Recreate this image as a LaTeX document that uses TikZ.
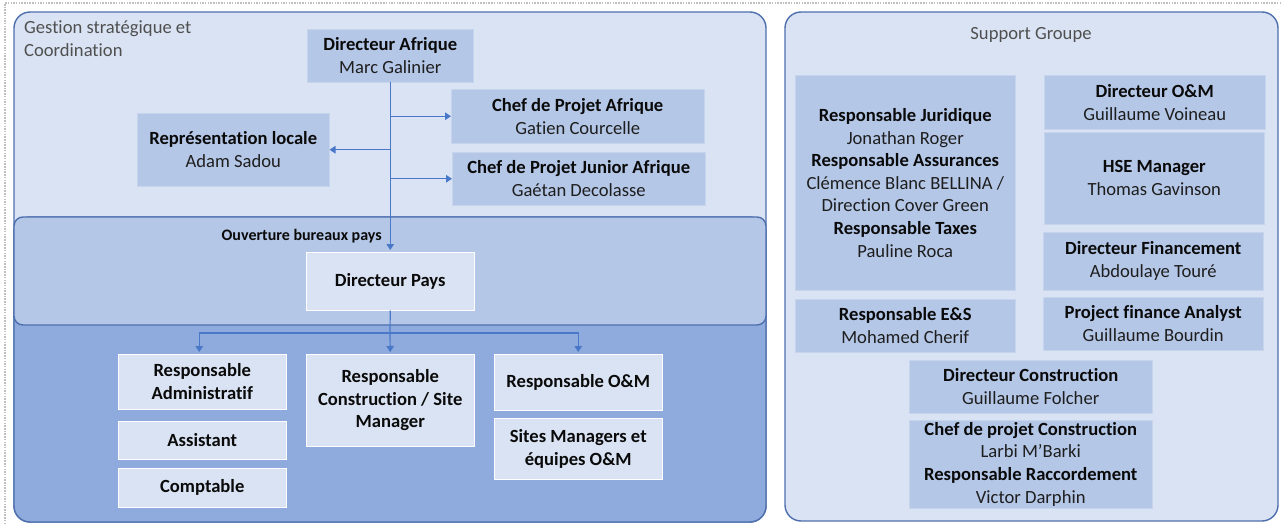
\documentclass[tikz,border=0pt]{standalone}
\usepackage{fontspec}
\setmainfont{Carlito}[Ligatures=NoCommon]
\usetikzlibrary{arrows.meta}

\definecolor{panelfill}{HTML}{DAE3F3}
\definecolor{bandmid}{HTML}{B4C7E7}
\definecolor{banddark}{HTML}{8FAADC}
\definecolor{panelline}{HTML}{4E6FAD}
\definecolor{linkblue}{HTML}{4A78C8}
\definecolor{ink}{HTML}{0A0A0A}
\definecolor{nameink}{HTML}{1E1E1E}
\definecolor{softink}{HTML}{505050}
\definecolor{framegray}{HTML}{BFBFBF}
\definecolor{boxedge}{HTML}{C6D4EC}

\tikzset{
  panel/.style={draw=panelline, line width=1.4pt, rounded corners=16pt},
  band/.style={draw=panelline, line width=1.4pt, rounded corners=9pt},
  orgbox/.style={inner sep=0pt, align=center, anchor=north west, text=ink,
    font=\fontsize{18.6}{22.6}\selectfont},
  boxmid/.style={orgbox, fill=bandmid, draw=boxedge, line width=0.5pt},
  boxlight/.style={orgbox, fill=panelfill, draw=white, line width=0.5pt},
  link/.style={draw=linkblue, line width=1.2pt},
  arr/.style={link, -{Triangle[length=6pt,width=7.5pt]}},
}
\newcommand\pname[1]{\textcolor{nameink}{#1}}

\begin{document}
\begin{tikzpicture}[x=1pt,y=-1pt]
\useasboundingbox (0,0) rectangle (1282,524);

% dotted page frame
\draw[framegray, line width=1.2pt, dash pattern=on 1.5pt off 1.2pt]
  (5,524) -- (5,3) -- (1282,3);

% left panel with its two bands
\draw[panel, fill=panelfill] (14,12) rectangle (766,522);
\draw[panel, fill=banddark] (14,217) rectangle (766,522);
\draw[band, fill=bandmid] (14,217) rectangle (766,325);

% right panel
\draw[panel, fill=panelfill] (785,12) rectangle (1278,521);

% panel titles
\node[anchor=north west, inner sep=0pt, align=left, text=softink,
  font=\fontsize{18.6}{23}\selectfont] (gsc) at (24,20.5)
  {Gestion stratégique et\\Coordination};
\node[anchor=base, inner sep=0pt, text=softink,
  font=\fontsize{18.6}{22.6}\selectfont] (sg) at (1031,39.5) {Support Groupe};

% strategic management
\node[boxmid, minimum width=166pt, minimum height=53pt] (da) at (307,29)
  {\textbf{Directeur Afrique}\\\pname{Marc Galinier}};
\node[boxmid, minimum width=253pt, minimum height=54pt] (cpa) at (451,89)
  {\textbf{Chef de Projet Afrique}\\\pname{Gatien Courcelle}};
\node[boxmid, minimum width=253pt, minimum height=53pt] (cpja) at (452,152)
  {\textbf{Chef de Projet Junior Afrique}\\\pname{Gaétan Decolasse}};
\node[boxmid, minimum width=192pt, minimum height=73pt] (rl) at (137,113)
  {\textbf{Représentation locale}\\\pname{Adam Sadou}};

% country office
\node[anchor=east, inner sep=0pt, text=ink,
  font=\fontsize{16}{19}\selectfont\bfseries] (obp) at (382,236.5)
  {Ouverture bureaux pays};
\node[boxlight, minimum width=168pt, minimum height=58pt] (dp) at (306,252)
  {\textbf{Directeur Pays}};

% country teams
\node[boxlight, minimum width=168pt, minimum height=55pt] (radm) at (118,354)
  {\textbf{Responsable}\\\textbf{Administratif}};
\node[boxlight, minimum width=168pt, minimum height=38pt] (asst) at (118,421)
  {\textbf{Assistant}};
\node[boxlight, minimum width=168pt, minimum height=39pt] (compt) at (118,468)
  {\textbf{Comptable}};
\node[boxlight, minimum width=168pt, minimum height=92pt] (rcs) at (306,354)
  {\textbf{Responsable}\\\textbf{Construction / Site}\\\textbf{Manager}};
\node[boxlight, minimum width=168pt, minimum height=56pt] (rom) at (494,354)
  {\textbf{Responsable O\&M}};
\node[boxlight, minimum width=168pt, minimum height=61pt] (smo) at (494,418)
  {\textbf{Sites Managers et}\\\textbf{équipes O\&M}};

% group support
\node[boxmid, minimum width=220pt, minimum height=215pt] (jur) at (795,75)
  {\textbf{Responsable Juridique}\\\pname{Jonathan Roger}\\
   \textbf{Responsable Assurances}\\\pname{Clémence Blanc BELLINA /}\\
   \pname{Direction Cover Green}\\\textbf{Responsable Taxes}\\\pname{Pauline Roca}};
\node[boxmid, minimum width=221pt, minimum height=54pt] (dom) at (1044,75)
  {\textbf{Directeur O\&M}\\\pname{Guillaume Voineau}};
\node[boxmid, minimum width=220pt, minimum height=92pt] (hse) at (1044,132)
  {\textbf{HSE Manager}\\\pname{Thomas Gavinson}};
\node[boxmid, minimum width=220pt, minimum height=58pt] (dfin) at (1043,232)
  {\textbf{Directeur Financement}\\\pname{Abdoulaye Touré}};
\node[boxmid, minimum width=220pt, minimum height=53pt] (res) at (795,299)
  {\textbf{Responsable E\&S}\\\pname{Mohamed Cherif}};
\node[boxmid, minimum width=220pt, minimum height=53pt] (pfa) at (1043,297)
  {\textbf{Project finance Analyst}\\\pname{Guillaume Bourdin}};
\node[boxmid, minimum width=243pt, minimum height=53pt] (dcon) at (909,360)
  {\textbf{Directeur Construction}\\\pname{Guillaume Folcher}};
\node[boxmid, minimum width=243pt, minimum height=88pt] (cpc) at (909,420)
  {\textbf{Chef de projet Construction}\\\pname{Larbi M’Barki}\\
   \textbf{Responsable Raccordement}\\\pname{Victor Darphin}};

% reporting lines, Afrique
\draw[arr, shorten >=2pt] (da.south) -- (dp.north);
\draw[arr] (da.south |- cpa.west) -- (cpa.west);
\draw[arr] (da.south |- rl.east) -- (rl.east);
\draw[arr] (da.south |- cpja.west) -- (cpja.west);

% reporting lines, country office
\coordinate (split) at (390,333);
\draw[link] (dp.south) -- (split);
\draw[arr, shorten >=2pt] (split) -- (rcs.north);
\draw[arr, shorten >=2pt] (split) -| ([xshift=-3pt]radm.north);
\draw[arr, shorten >=2pt] (split) -| (rom.north);
\end{tikzpicture}
\end{document}
